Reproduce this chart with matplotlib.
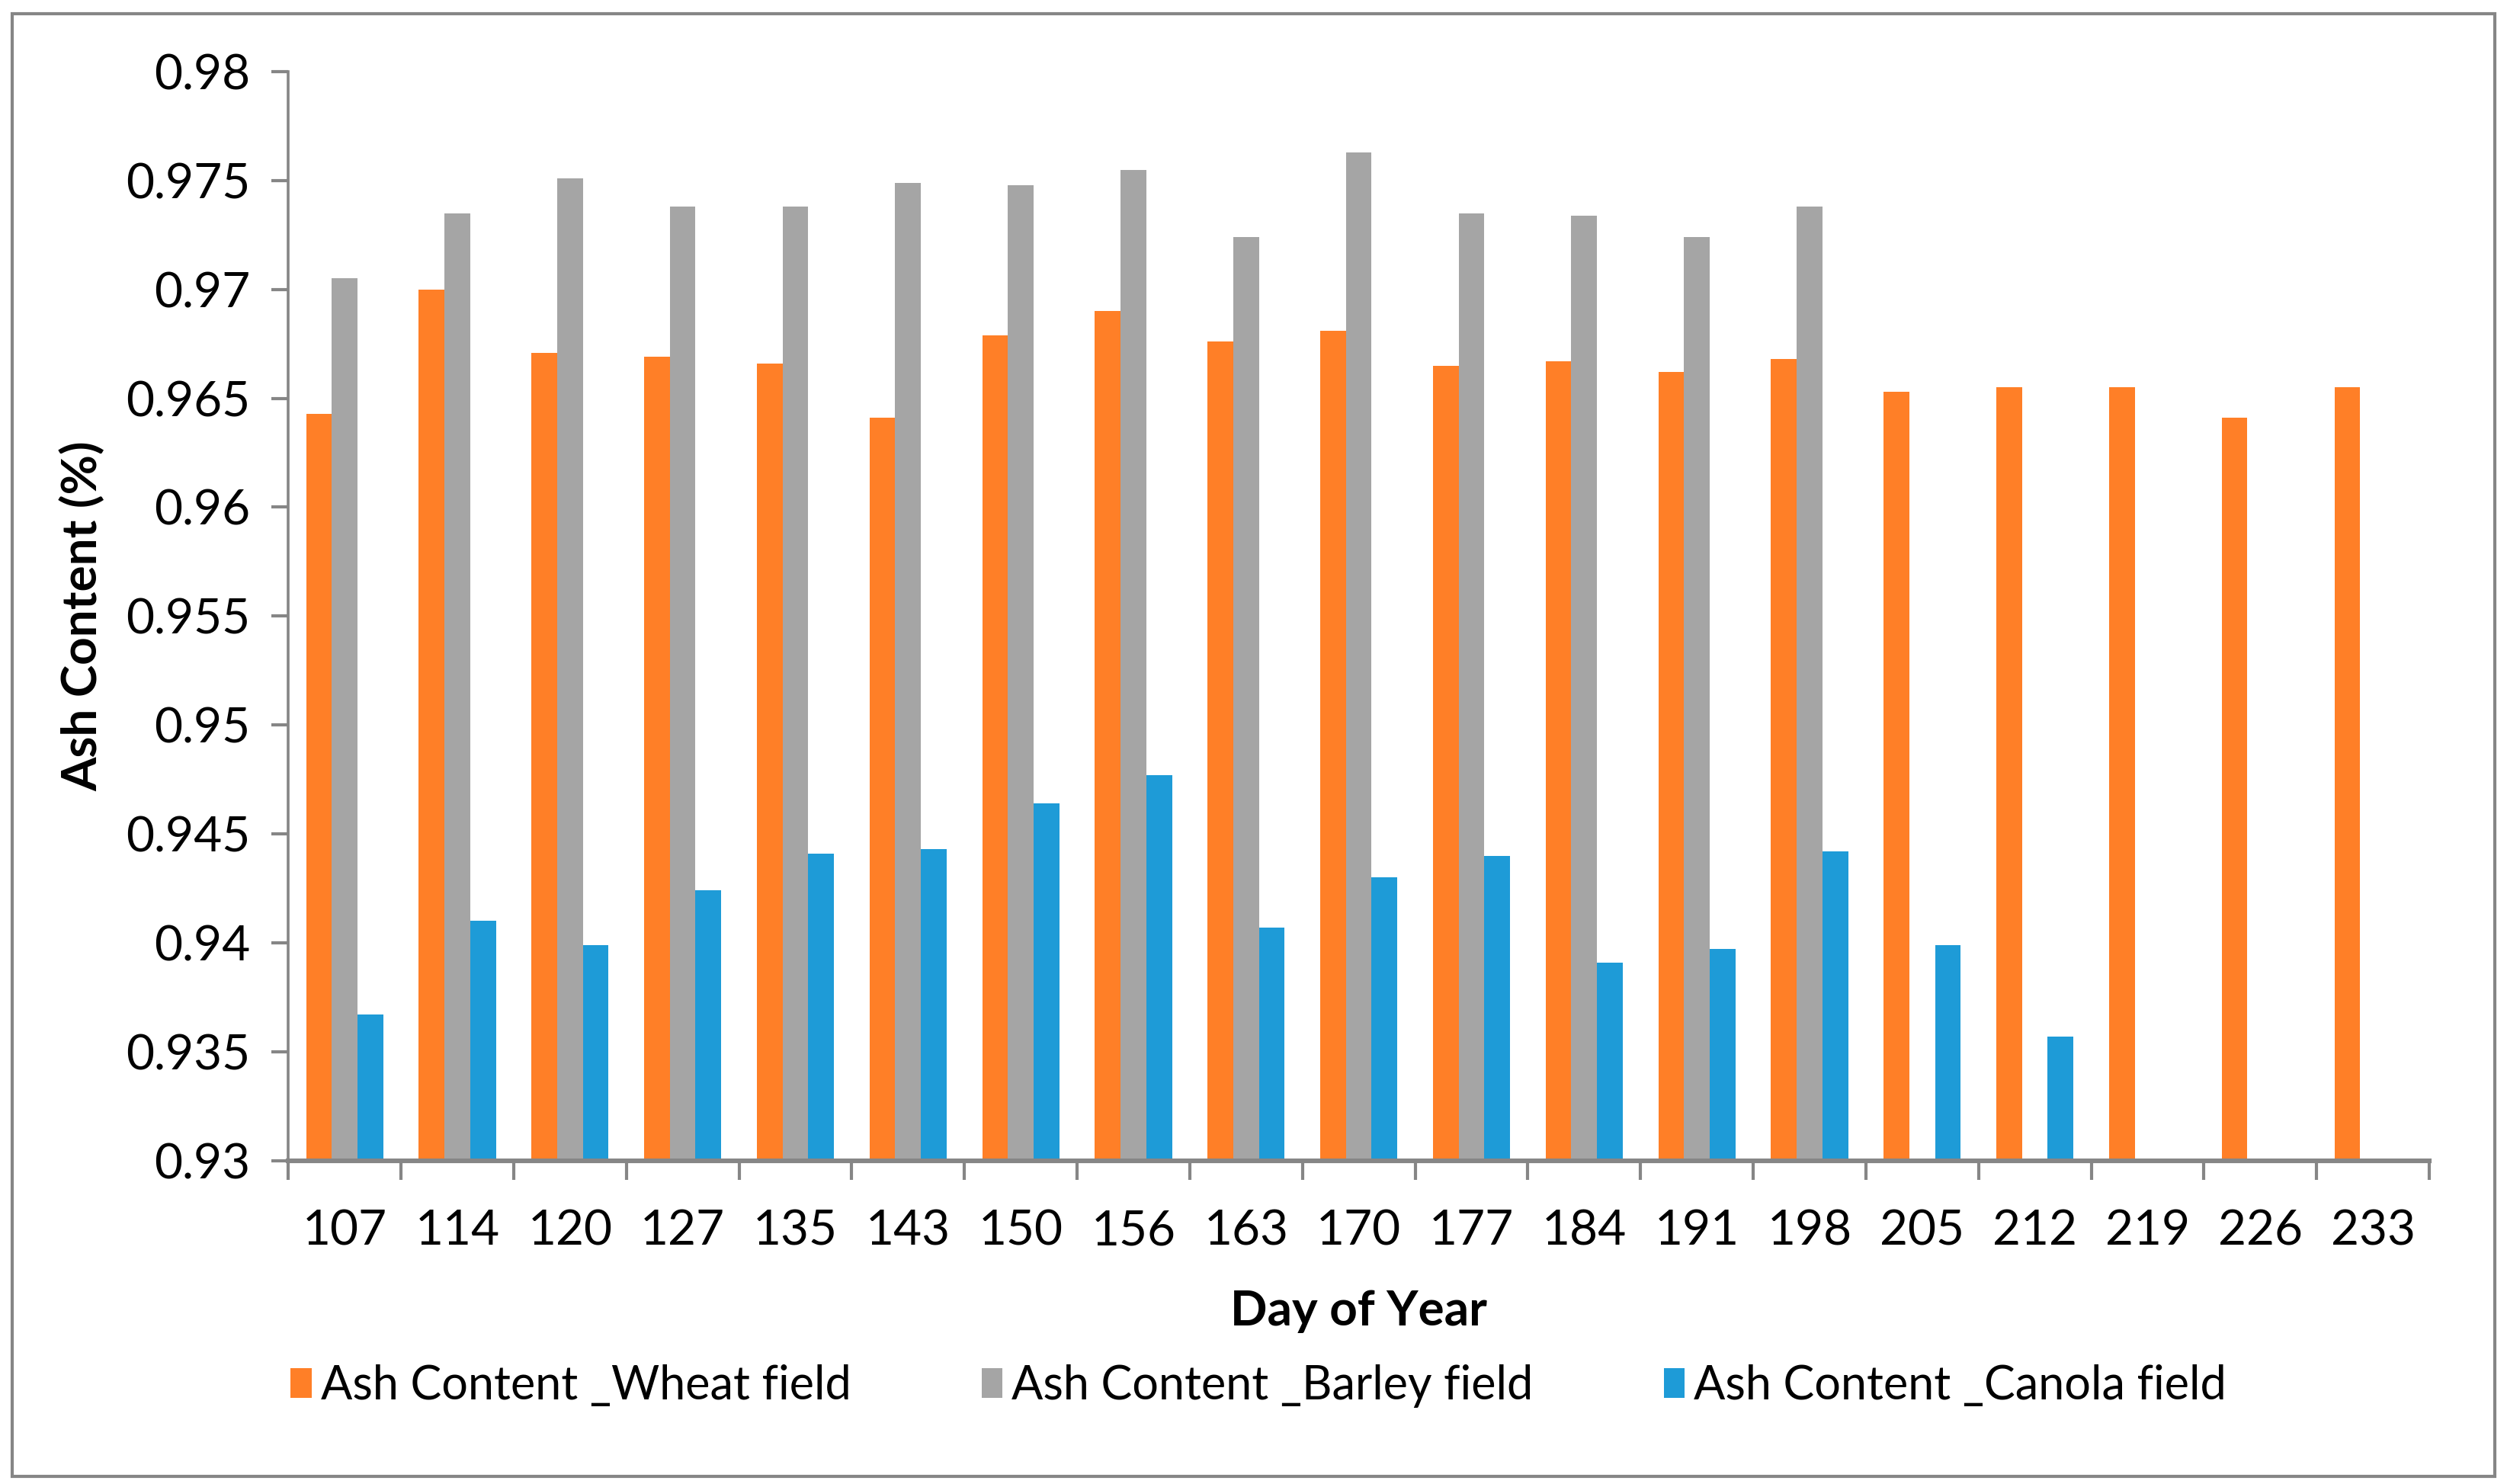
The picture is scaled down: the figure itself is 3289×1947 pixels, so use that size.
import numpy as np
import matplotlib
matplotlib.use('Agg')
import matplotlib.pyplot as plt
from matplotlib.ticker import FixedLocator, FuncFormatter
from matplotlib.patches import Rectangle

plt.rcParams['font.family'] = ['Lato', 'DejaVu Sans']

# data
days = ['107', '114', '120', '127', '135', '143', '150', '156', '163', '170',
        '177', '184', '191', '198', '205', '212', '219', '226', '233']
wheat = [0.9643, 0.9700, 0.9671, 0.9669, 0.9666, 0.9641, 0.9679, 0.9690, 0.9676, 0.9681,
         0.9665, 0.9667, 0.9662, 0.9668, 0.9653, 0.9655, 0.9655, 0.9641, 0.9655]
barley = [0.9705, 0.9735, 0.9751, 0.9738, 0.9738, 0.9749, 0.9748, 0.9755, 0.9724, 0.9763,
          0.9735, 0.9734, 0.9724, 0.9738]
canola = [0.9367, 0.9410, 0.9399, 0.9424, 0.9441, 0.9443, 0.9464, 0.9477, 0.9407, 0.9430,
          0.9440, 0.9391, 0.9397, 0.9442, 0.9399, 0.9357]
series_names = ['Ash Content _Wheat field', 'Ash Content _Barley field', 'Ash Content _Canola field']
colors = ['#FF7F27', '#A5A5A5', '#1E9BD7']

fig = plt.figure(figsize=(16.445, 9.735), dpi=200)
ax = fig.add_axes([0.115, 0.218, 0.854, 0.7337])

base = 0.93
w = 0.228
x = np.arange(len(days))
for i, vals in enumerate([wheat, barley, canola]):
    xs = x[:len(vals)] + (i - 1) * w
    h = np.array(vals) - base
    ax.bar(xs, h, width=w, bottom=base, color=colors[i], label=series_names[i], linewidth=0)

ax.set_ylim(0.93, 0.98)
ax.set_xlim(-0.5, len(days) - 0.5)
ax.set_yticks(np.arange(0.93, 0.9801, 0.005))
ax.yaxis.set_major_formatter(FuncFormatter(lambda v, p: '%g' % round(v, 3)))

# category labels at centres, tick marks between categories
ax.set_xticks(x)
ax.set_xticklabels(days)
ax.xaxis.set_minor_locator(FixedLocator(np.arange(-0.5, len(days), 1.0)))
ax.tick_params(axis='x', which='major', length=0, pad=23, labelsize=23)
ax.tick_params(axis='x', which='minor', length=9, width=1.5, color='#868686', direction='out')
ax.tick_params(axis='y', length=8, width=1.5, color='#868686', direction='out', pad=10, labelsize=23)

for s in ['top', 'right']:
    ax.spines[s].set_visible(False)
ax.spines['left'].set_color('#868686')
ax.spines['left'].set_linewidth(1.3)
ax.spines['bottom'].set_color('#868686')
ax.spines['bottom'].set_linewidth(2.2)

ax.set_xlabel('Day of Year', fontsize=23, fontweight='bold', labelpad=17)
ax.set_ylabel('Ash Content (%)', fontsize=23, fontweight='bold', labelpad=10)

fig.legend(loc='center', bbox_to_anchor=(0.502, 0.066), ncol=3, frameon=False,
           fontsize=22, handlelength=0.45, handleheight=0.6, handletextpad=0.2,
           columnspacing=2.8)

# outer chart border
fig.patches.append(Rectangle((0.005, 0.005), 0.99, 0.986, transform=fig.transFigure,
                             fill=False, edgecolor='#868686', linewidth=1.5))

fig.savefig('out.png', dpi=200)
